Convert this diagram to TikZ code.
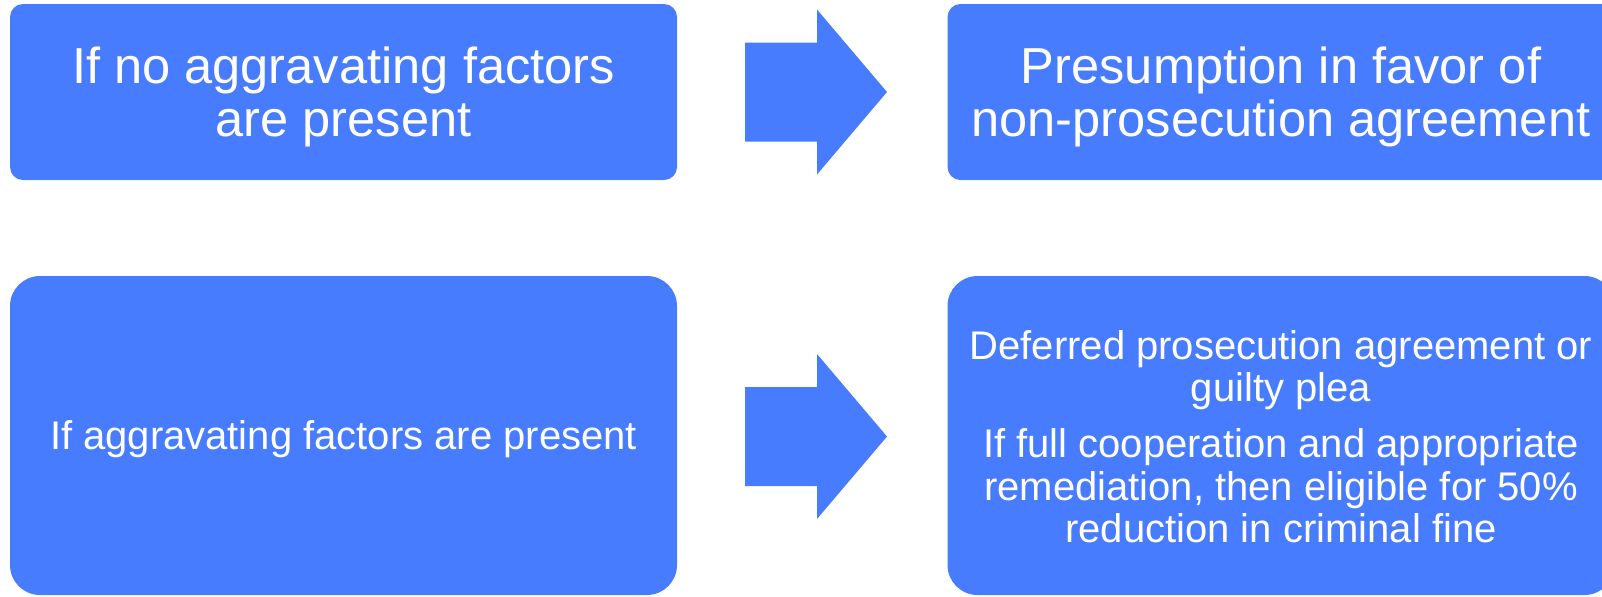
\documentclass[tikz,border=0pt]{standalone}
\usepackage{fontspec}
\setmainfont{Liberation Sans}
\usetikzlibrary{positioning}
\definecolor{boxblue}{RGB}{72,124,255}
\tikzset{
  box/.style={fill=boxblue, inner sep=0pt, minimum width=333.5pt},
  smallbox/.style={box, rounded corners=6.5pt, minimum height=88pt},
  bigbox/.style={box, rounded corners=15pt, minimum height=159.5pt},
  boxtext/.style={text=white, align=center, inner sep=0pt},
  bigtext/.style={boxtext, font=\fontsize{25.3}{26.5}\selectfont},
  midtext/.style={boxtext, font=\fontsize{20}{21.2}\selectfont},
}
\begin{document}
\begin{tikzpicture}[x=0.5pt, y=-0.5pt]
\clip (0,0) rectangle (1602,596);
% boxes
\node[smallbox] (nofac) at (343.5,92) {};
\node[smallbox] (npa) at (1281,92) {};
\node[bigbox] (fac) at (343.5,435.5) {};
\node[bigbox] (dpa) at (1281,435.5) {};
% texts
\node[bigtext, yshift=-2.5pt] (nofactext) at (nofac) {If no aggravating factors\\are present};
\node[bigtext, yshift=-2.5pt] (npatext) at (npa) {Presumption in favor of\\non-prosecution agreement};
\node[midtext, yshift=-2pt] (factext) at (fac) {If aggravating factors are present};
\node[midtext, yshift=-0.5pt] (dpatext) at (dpa) {Deferred prosecution agreement or\\guilty plea\\[7pt]
  If full cooperation and appropriate\\remediation, then eligible for 50\%\\reduction in criminal fine};
% block arrows
\foreach \c in {92,436.5}
{
  \fill[boxblue] (745,\c-49.5) -- (817,\c-49.5) -- (817,\c-82.5) -- (887,\c)
    -- (817,\c+82.5) -- (817,\c+49.5) -- (745,\c+49.5) -- cycle;
}
\end{tikzpicture}
\end{document}
